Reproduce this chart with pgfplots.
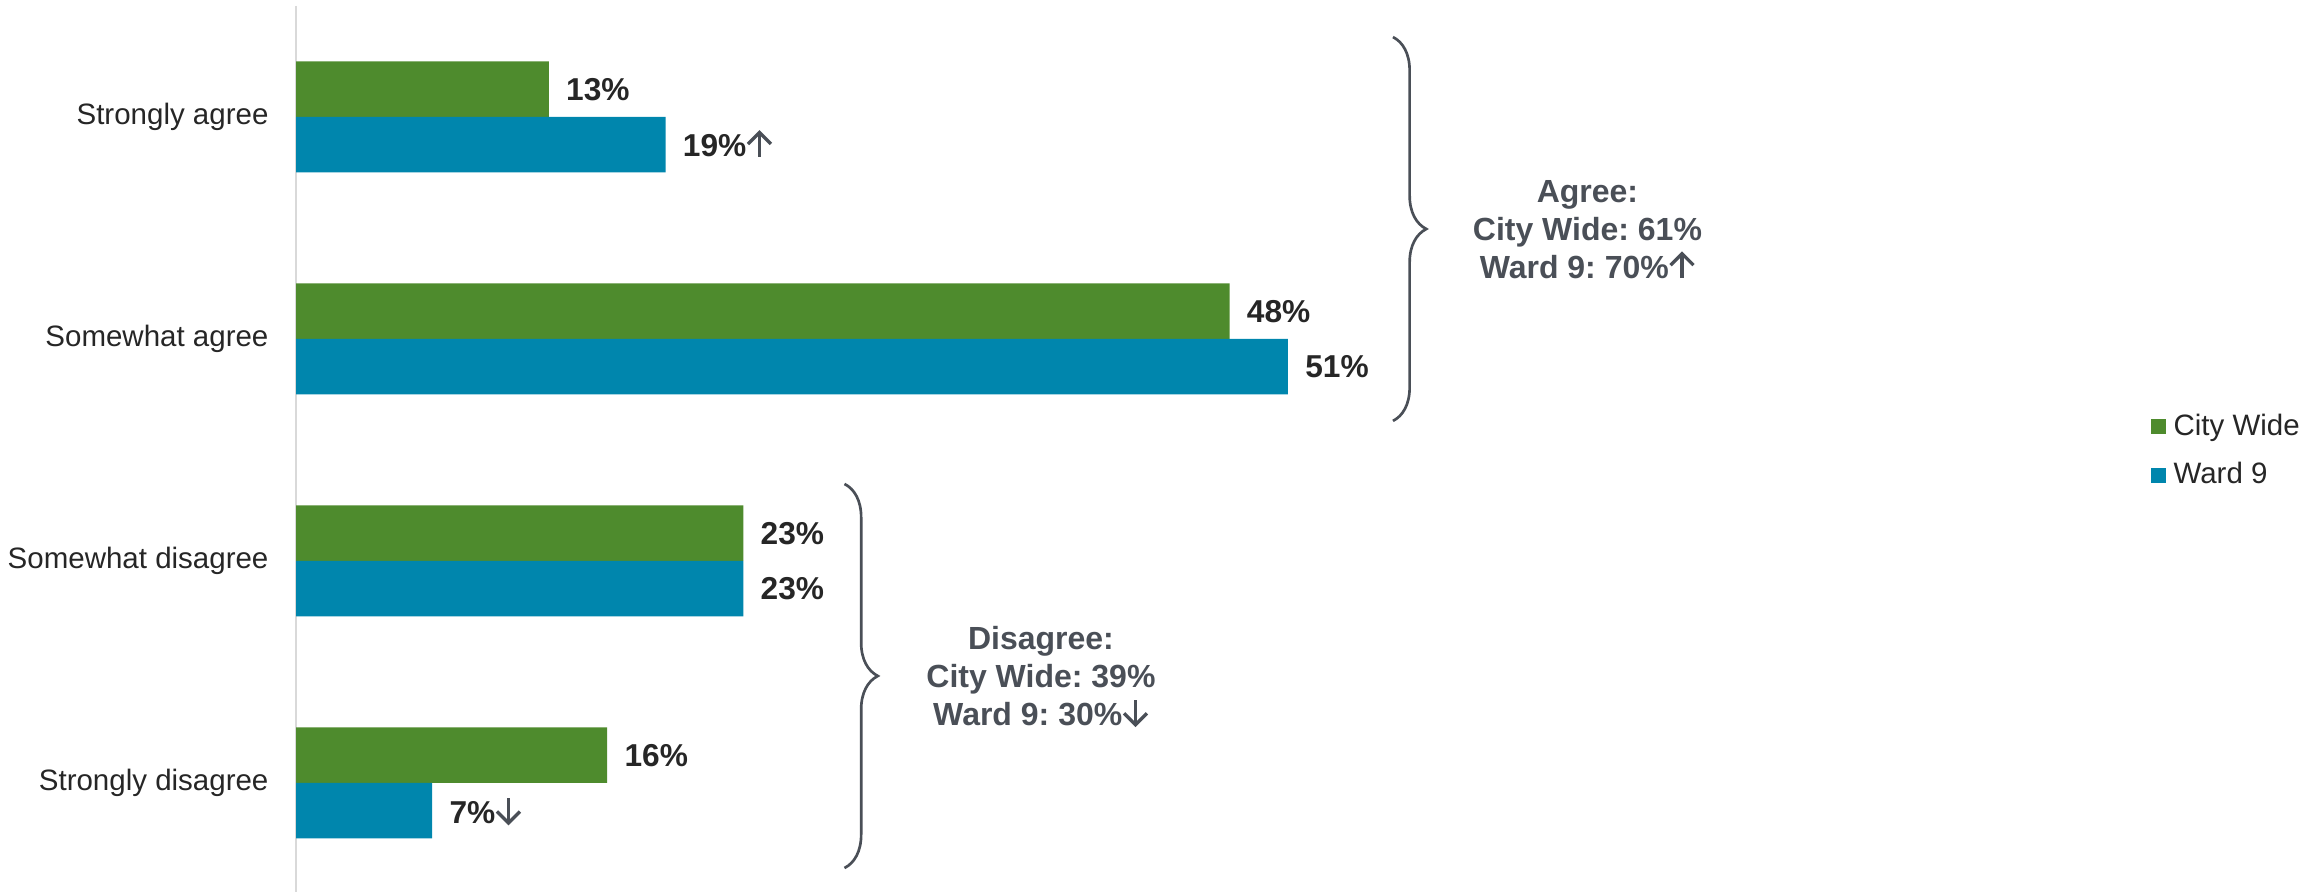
\documentclass[border=0pt]{standalone}
\usepackage{pgfplots}
\pgfplotsset{compat=1.18}
\usepackage{fontspec}
\setmainfont{Liberation Sans}
\usetikzlibrary{decorations.pathreplacing}
\definecolor{cwGreen}{HTML}{4E8B2D}
\definecolor{wBlue}{HTML}{0086AD}
\definecolor{labelDark}{HTML}{262626}
\definecolor{annGray}{HTML}{4A4F57}
\definecolor{axisGray}{HTML}{D9D9D9}
\DeclareRobustCommand\up{\tikz[baseline=0pt]{\path[fill=none,draw=none] (0pt,0pt) rectangle (7.9pt,7.6pt);
  \draw[fill=none,draw=annGray,line width=1pt] (3.95pt,0pt)--(3.95pt,7.3pt);
  \draw[fill=none,draw=annGray,line width=1pt,line join=miter] (0.5pt,3.9pt)--(3.95pt,7.35pt)--(7.4pt,3.9pt);}}
\DeclareRobustCommand\down{\tikz[baseline=0pt]{\path[fill=none,draw=none] (0pt,0pt) rectangle (7.9pt,7.6pt);
  \draw[fill=none,draw=annGray,line width=1pt] (3.95pt,7.6pt)--(3.95pt,0.3pt);
  \draw[fill=none,draw=annGray,line width=1pt,line join=miter] (0.5pt,3.7pt)--(3.95pt,0.25pt)--(7.4pt,3.7pt);}}
\pgfplotsset{sqlegend/.style={legend image code/.code={\fill[##1,draw=none] (0pt,-2.25pt) rectangle (4.5pt,2.25pt);}}}
\begin{document}
\frenchspacing
\begin{tikzpicture}
\begin{axis}[
  x=5.835pt, y=66.6pt,
  xmin=0, xmax=103.96, ymin=-0.5, ymax=3.49,
  y dir=reverse,
  axis x line=none, axis y line=left,
  y axis line style={-, draw=axisGray, line width=0.7pt},
  ytick={0,1,2,3},
  yticklabels={Strongly agree, Somewhat agree, Somewhat disagree, Strongly disagree},
  ytick style={draw=none},
  yticklabel style={font=\fontsize{8.85}{10.6}\selectfont, text=labelDark, inner sep=0pt, xshift=-3.8pt},
  xbar, bar width=16.65pt, bar shift=0pt,
  clip=false,
  point meta=explicit symbolic,
  nodes near coords,
  nodes near coords style={font=\fontsize{9.5}{11.4}\selectfont\bfseries, text=labelDark, anchor=west, inner sep=0pt, xshift=5pt},
  every axis plot post/.append style={sqlegend},
  legend cell align=left,
  legend style={at={(axis cs:95.35,1.505)}, anchor=west, draw=none, fill=none, inner sep=0pt,
    font=\fontsize{8.85}{10.6}\selectfont, text=labelDark, row sep=6.6pt,
    nodes={inner sep=0pt},
    /tikz/every odd column/.append style={column sep=2.2pt}},
]
\addplot[fill=cwGreen, draw=none] coordinates {
  (13,-0.125) [13\%]
  (48,0.875) [48\%]
  (23,1.875) [23\%]
  (16,2.875) [16\%]
};
\addplot[fill=wBlue, draw=none] coordinates {
  (19,0.125) [19\%\up]
  (51,1.125) [51\%]
  (23,2.125) [23\%]
  (7,3.125) [7\%\down]
};
\legend{City Wide, Ward 9}
\draw[annGray, line width=0.8pt, decorate, decoration={brace, amplitude=10pt}] (axis cs:56.4,-0.36) -- (axis cs:56.4,1.369);
\node[align=center, font=\fontsize{9.6}{11.4}\selectfont\bfseries, text=annGray] at (axis cs:66.4,0.509) {Agree:\\City Wide: 61\%\\Ward 9: 70\%\up};
\draw[annGray, line width=0.8pt, decorate, decoration={brace, amplitude=10pt}] (axis cs:28.2,1.653) -- (axis cs:28.2,3.383);
\node[align=center, font=\fontsize{9.6}{11.4}\selectfont\bfseries, text=annGray] at (axis cs:38.3,2.52) {Disagree:\\City Wide: 39\%\\Ward 9: 30\%\down};
\path (axis cs:-15.22,-0.527) rectangle (axis cs:103.96,3.491);
\end{axis}
\end{tikzpicture}
\end{document}
